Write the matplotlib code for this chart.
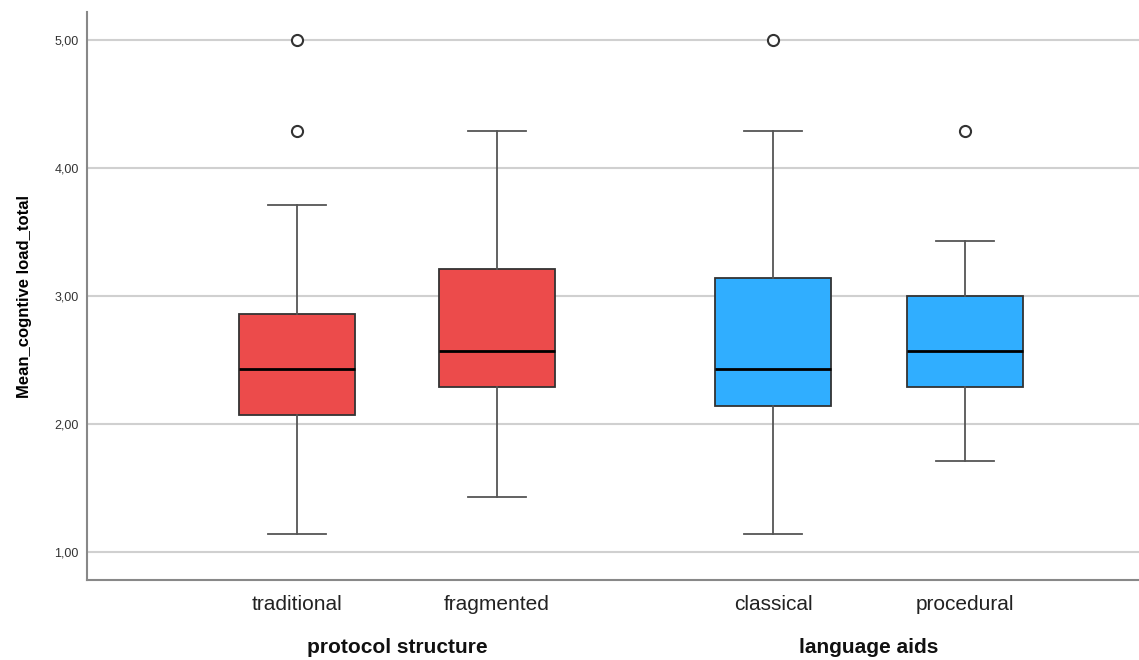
import matplotlib.pyplot as plt
from matplotlib.ticker import FuncFormatter

plt.rcParams['font.family'] = ['Liberation Sans', 'DejaVu Sans']

# Box statistics (SPSS style boxplot)
categories = ['traditional', 'fragmented', 'classical', 'procedural']
groups = ['protocol structure', 'language aids']
whisker_low = [1.143, 1.429, 1.143, 1.714]
q1 = [2.071, 2.286, 2.143, 2.286]
median = [2.429, 2.571, 2.429, 2.571]
q3 = [2.857, 3.214, 3.143, 3.000]
whisker_high = [3.714, 4.286, 4.286, 3.429]
outliers = [[4.286, 5.0], [], [5.0], [4.286]]
y_ticks = [1, 2, 3, 4, 5]

# Layout (x in pixel/100 units of the reference)
positions = [2.97, 4.97, 7.73, 9.65]
colors = ['#EC4B4B', '#EC4B4B', '#30AEFF', '#30AEFF']

stats = []
for i, name in enumerate(categories):
    stats.append(dict(label=name, whislo=whisker_low[i], q1=q1[i], med=median[i],
                      q3=q3[i], whishi=whisker_high[i], fliers=outliers[i]))

fig = plt.figure(figsize=(11.39, 6.6), dpi=100)
ax = fig.add_axes([87 / 1139, 80 / 660, 1052 / 1139, 568 / 660])

ax.yaxis.grid(True, color='#d0d0d0', lw=1.5, zorder=0)
ax.set_axisbelow(True)

bp = ax.bxp(stats, positions=positions, widths=1.16, capwidths=0.58, patch_artist=True,
            boxprops=dict(edgecolor='#333333', lw=1.3),
            medianprops=dict(color='black', lw=2),
            whiskerprops=dict(color='#555555', lw=1.3),
            capprops=dict(color='#555555', lw=1.3),
            flierprops=dict(marker='o', markersize=8, markerfacecolor='white',
                            markeredgecolor='#333333', markeredgewidth=1.5))
for patch, c in zip(bp['boxes'], colors):
    patch.set_facecolor(c)

ax.set_xlim(0.87, 11.39)
ax.set_ylim(0.78, 5.22)
ax.set_yticks(y_ticks)
ax.yaxis.set_major_formatter(FuncFormatter(lambda v, p: f'{v:.2f}'.replace('.', ',')))
ax.tick_params(axis='y', length=0, labelsize=9, colors='#333333', pad=6)
ax.tick_params(axis='x', length=0, labelsize=15, colors='#222222', pad=11)
ax.set_xticks(positions)
ax.set_xticklabels(categories)

for s in ['top', 'right']:
    ax.spines[s].set_visible(False)
for s in ['left', 'bottom']:
    ax.spines[s].set_color('#888888')
    ax.spines[s].set_linewidth(1.5)

ax.set_ylabel('Mean_cogntive load_total', fontsize=12, fontweight='bold', labelpad=16)

# Group labels under the category labels
group_centers = [(positions[0] + positions[1]) / 2, (positions[2] + positions[3]) / 2]
for g, xc in zip(groups, group_centers):
    ax.text(xc, -0.118, g, transform=ax.get_xaxis_transform(), ha='center', va='center',
            fontsize=15, fontweight='bold', color='#111111')

plt.savefig('out.png', dpi=100)
